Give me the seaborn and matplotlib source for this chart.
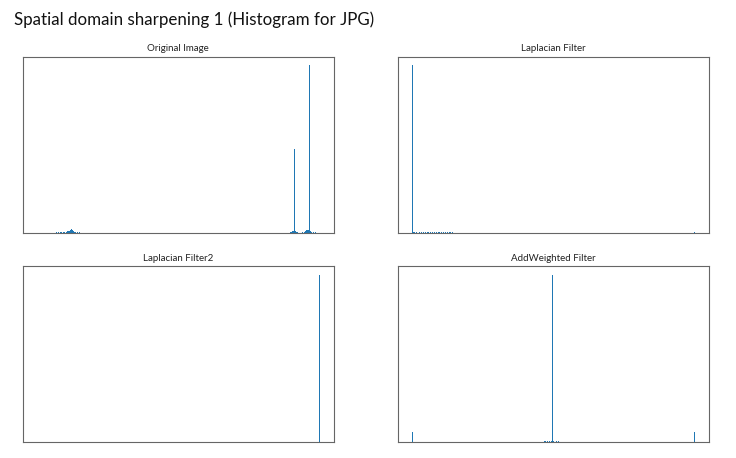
import numpy as np
import pandas as pd
import matplotlib
matplotlib.use("Agg")
import matplotlib.pyplot as plt
import seaborn as sns

# intensity levels (0-255) and pixel counts
orig_levels = [17, 19, 21, 22, 24, 26, 27, 28, 29, 30, 31, 32, 33, 34, 36, 38,
               229, 230, 231, 232, 233, 234, 235, 240, 242, 243, 244, 245, 246, 247, 248, 250, 252]
orig_counts = [20, 30, 40, 45, 50, 60, 70, 90, 120, 150, 190, 140, 90, 60, 40, 25,
               30, 50, 80, 120, 5000, 90, 40, 30, 60, 90, 150, 130, 10000, 80, 50, 40, 30]

lap_levels = [0, 1, 2, 4, 6, 8, 10, 12, 14, 16, 18, 20, 22, 24, 26, 28, 30, 32, 34, 36, 255]
lap_counts = [10000, 60, 45, 35, 30, 28, 25, 22, 20, 18, 16, 15, 14, 13, 12, 11, 10, 10, 9, 8, 15]

lap2_levels = [0, 118, 120, 122, 124, 126, 128, 130, 132, 134, 136, 138, 140, 255]
lap2_counts = [15, 8, 10, 12, 14, 16, 18, 16, 14, 12, 10, 9, 8, 10000]

addw_levels = [0, 114, 116, 118, 120, 122, 124, 126, 127, 128, 130, 132, 134, 136, 138, 140, 255]
addw_counts = [600, 15, 20, 25, 30, 35, 45, 60, 10000, 60, 45, 35, 25, 20, 15, 12, 600]

titles = ["Original Image", "Laplacian Filter", "Laplacian Filter2", "AddWeighted Filter"]
series = [(orig_levels, orig_counts), (lap_levels, lap_counts),
          (lap2_levels, lap2_counts), (addw_levels, addw_counts)]

sns.set_style("white")
plt.rcParams['font.family'] = ['Lato', 'DejaVu Sans']

fig, axes = plt.subplots(2, 2, figsize=(7.36, 4.58), dpi=100)
fig.subplots_adjust(left=0.031, right=0.963, top=0.8755, bottom=0.035,
                    wspace=0.206, hspace=0.193)

for ax, title, (levels, counts) in zip(axes.flat, titles, series):
    df = pd.DataFrame({"level": levels, "count": counts})
    sns.histplot(data=df, x="level", weights="count", bins=256, binrange=(0, 256),
                 color="#1f77b4", alpha=1, linewidth=0, ax=ax)
    ax.set_title(title, fontsize=7, pad=4, color="#222222")
    ax.set_xlabel("")
    ax.set_ylabel("")
    ax.set_xticks([])
    ax.set_yticks([])
    for sp in ax.spines.values():
        sp.set_color("#666666")
        sp.set_linewidth(0.8)

fig.text(0.019, 0.957, "Spatial domain sharpening 1 (Histogram for JPG)",
         fontsize=12.2, ha="left", va="center", color="#111111")

fig.savefig("out.png", dpi=100)
